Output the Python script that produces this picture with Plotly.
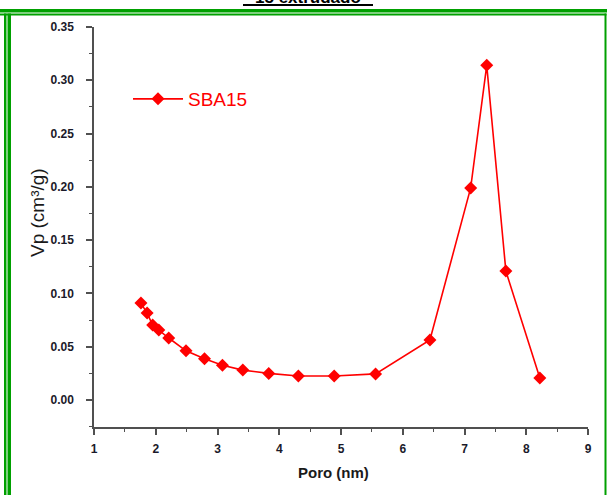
import plotly.graph_objects as go

# Data
poro_nm = [1.76, 1.86, 1.95, 2.05, 2.21, 2.49, 2.79, 3.08, 3.41, 3.83, 4.31, 4.89, 5.56, 6.44, 7.10, 7.36, 7.67, 8.22]
vp_cm3g = [0.091, 0.0816, 0.0704, 0.0657, 0.0582, 0.0462, 0.0387, 0.0326, 0.0281, 0.0250, 0.0225, 0.0225, 0.0245, 0.0563, 0.199, 0.314, 0.121, 0.0206]
series_name = "SBA15"
x_ticks = [1, 2, 3, 4, 5, 6, 7, 8, 9]
y_ticks = [0.00, 0.05, 0.10, 0.15, 0.20, 0.25, 0.30, 0.35]

W, H = 607, 495
L, R, T, B = 94, 19, 27, 68
PW, PH = W - L - R, H - T - B

def px(xp):
    return (xp - L) / PW

def py(yp):
    return (H - B - yp) / PH

RED = "#FF0000"
GREEN = "#00A000"
AXC = "#505050"

fig = go.Figure()
fig.add_trace(go.Scatter(
    x=poro_nm, y=vp_cm3g, mode="lines+markers", name=series_name,
    line=dict(color=RED, width=1.6),
    marker=dict(symbol="diamond", size=10, color=RED),
))

tickfont = dict(family="Liberation Sans, Arial, sans-serif", size=12, color="#1a1a2a", weight="bold")

fig.update_xaxes(
    range=[1, 9], tickvals=x_ticks, ticktext=[str(v) for v in x_ticks],
    showline=True, linecolor=AXC, linewidth=1.5, mirror=False,
    ticks="outside", ticklen=6, tickwidth=1.5, tickcolor=AXC,
    minor=dict(dtick=0.5, ticks="outside", ticklen=3, tickwidth=1.2, tickcolor=AXC),
    showgrid=False, zeroline=False, tickfont=tickfont, ticklabelstandoff=4,
)
fig.update_yaxes(
    range=[-0.0253, 0.35], tickvals=y_ticks, ticktext=[f"{v:.2f}" for v in y_ticks],
    showline=True, linecolor=AXC, linewidth=1.5, mirror=False,
    ticks="outside", ticklen=6, tickwidth=1.5, tickcolor=AXC,
    minor=dict(dtick=0.025, ticks="outside", ticklen=3, tickwidth=1.2, tickcolor=AXC),
    showgrid=False, zeroline=False, tickfont=tickfont, ticklabelstandoff=10,
)

shapes = []
def rect(x0, y0, x1, y1):
    shapes.append(dict(type="rect", xref="paper", yref="paper",
                       x0=px(x0), x1=px(x1), y0=py(y0), y1=py(y1),
                       fillcolor=GREEN, line=dict(width=0), layer="above"))

rect(0, 9, W, 12.5)      # top outer
rect(0, 13.5, 606.5, 15.5)  # top inner
rect(4, 13.5, 6.5, H)    # left outer
rect(7.5, 13.5, 11, H)   # left inner
rect(604.5, 13.5, 606.5, H)  # right inner
# title underline
shapes.append(dict(type="rect", xref="paper", yref="paper",
                   x0=px(243), x1=px(373), y0=py(4), y1=py(6),
                   fillcolor="black", line=dict(width=0)))

annotations = [
    dict(text="15 extrudado", xref="paper", yref="paper", x=px(308), y=py(8.5),
         xanchor="center", yanchor="bottom", showarrow=False,
         font=dict(family="Liberation Sans, Arial", size=17, color="black", weight="bold")),
    dict(text="Poro (nm)", xref="paper", yref="paper", x=px(333), y=py(472),
         xanchor="center", yanchor="middle", showarrow=False,
         font=dict(family="Liberation Sans, Arial", size=15, color="#1a1a1a", weight="bold")),
    dict(text="Vp (cm³/g)", xref="paper", yref="paper", x=px(37), y=py(213),
         xanchor="center", yanchor="middle", showarrow=False, textangle=-90,
         font=dict(family="Liberation Sans, Arial", size=19, color="#1a1a1a")),
]

fig.update_layout(
    width=W, height=H,
    margin=dict(l=L, r=R, t=T, b=B),
    paper_bgcolor="white", plot_bgcolor="white",
    showlegend=True,
    legend=dict(x=px(128), y=py(80), xanchor="left", yanchor="top",
                font=dict(family="Liberation Sans, Arial", size=19, color=RED),
                bgcolor="rgba(0,0,0,0)", itemwidth=50),
    shapes=shapes, annotations=annotations,
)

fig.write_html("out.html")
